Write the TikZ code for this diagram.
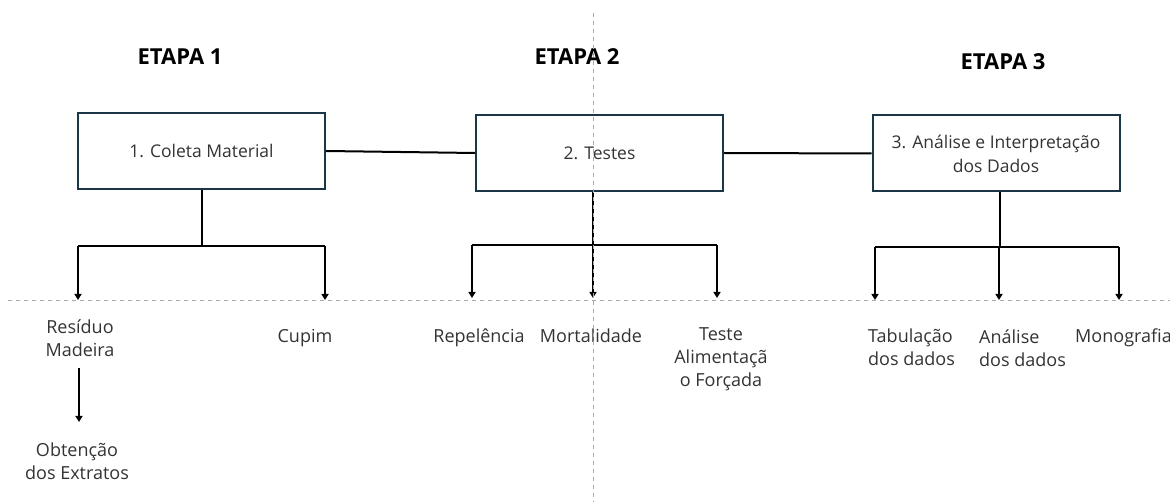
\documentclass[tikz,border=0pt]{standalone}
\usepackage{fontspec}
\setmainfont{Open Sans}
\usetikzlibrary{arrows.meta}
\definecolor{boxc}{HTML}{1B3747}
\definecolor{txt}{HTML}{333333}
\definecolor{guidec}{HTML}{AAAAAA}
\begin{document}
\begin{tikzpicture}[x=1pt,y=-1pt,
  box/.style={draw=boxc, line width=2pt, minimum width=247pt, minimum height=76pt, inner sep=0pt, text=txt, align=center, font=\fontsize{17.5}{24}\selectfont},
  etapa/.style={font=\bfseries\fontsize{22}{26}\selectfont, text=black},
  lbl/.style={text=txt, align=center, inner sep=0pt, anchor=base, font=\fontsize{18}{23}\selectfont},
  lbll/.style={lbl, align=left, anchor=base west},
  link/.style={line width=2pt, black},
  arr/.style={link, -{Triangle[width=7pt,length=6pt]}},
  guide/.style={draw=guidec, line width=1pt, dash pattern=on 4pt off 4pt}]
\useasboundingbox (0,0) rectangle (1170,502);
% titles
\node[etapa] (e1) at (180,57) {ETAPA 1};
\node[etapa] (e2) at (577,57) {ETAPA 2};
\node[etapa] (e3) at (1003,62) {ETAPA 3};
% boxes
\node[box] (b1) at (201.5,151) {1. Coleta Material};
\node[box] (b2) at (599.5,153) {2. Testes};
\node[box] (b3) at (996,153.5) {3. Análise e Interpretação\\dos Dados};
\draw[link] (b1.east) -- (b2.west);
\draw[link] (b2.east) -- (b3.west);
% junction coordinates
\coordinate (j1) at (202,246);
\coordinate (j1l) at (78,246);
\coordinate (j1r) at (325,246);
\coordinate (t1a) at (78,300);
\coordinate (t1b) at (325,300);
\coordinate (j2) at (593,245);
\coordinate (j2l) at (472,245);
\coordinate (j2r) at (717,245);
\coordinate (t2a) at (472,298);
\coordinate (t2b) at (593,298);
\coordinate (t2c) at (717,298);
\coordinate (j3) at (1000,247);
\coordinate (j3l) at (875,247);
\coordinate (j3r) at (1119,247);
\coordinate (t3a) at (875,300);
\coordinate (t3b) at (999,300);
\coordinate (t3c) at (1119,300);
% tree 1
\draw[link] (b1.south -| j1) -- (j1);
\draw[link] (j1l) -- (j1r);
\draw[arr] (j1l) -- (t1a);
\draw[arr] (j1r) -- (t1b);
% tree 2
\draw[link] (j2l) -- (j2r);
\draw[arr] (b2.south -| j2) -- (t2b);
\draw[arr] (j2l) -- (t2a);
\draw[arr] (j2r) -- (t2c);
% tree 3
\draw[link] (b3.south -| j3) -- (j3);
\draw[link] (j3l) -- (j3r);
\draw[arr] (j3l) -- (t3a);
\draw[arr] (j3 -| t3b) -- (t3b);
\draw[arr] (j3r) -- (t3c);
% labels (anchor = baseline of last line)
\node[lbl] (l1) at (80,357) {Resíduo\\Madeira};
\node[lbl] (l2) at (305,343) {Cupim};
\node[lbl] (l3) at (77,479) {Obtenção\\dos Extratos};
\coordinate (r0) at (79,368);
\coordinate (r1) at (79,422);
\draw[arr] (r0) -- (r1);
\node[lbl] (l4) at (479,343) {Repelência};
\node[lbl] (l5) at (591,343) {Mortalidade};
\node[lbl] (l6) at (721,387) {Teste\\Alimentaçã\\o Forçada};
\node[lbll] (l7) at (868,366) {Tabulação\\dos dados};
\node[lbll] (l8) at (979,367) {Análise\\dos dados};
\node[lbll] (l9) at (1075,343) {Monografia};
% guides
\coordinate (g1) at (8,301);
\coordinate (g2) at (1170,301);
\coordinate (g3) at (593,13);
\coordinate (g4) at (593,502);
\draw[guide] (g1) -- (g2);
\draw[guide] (g3) -- (g4);
\end{tikzpicture}
\end{document}
